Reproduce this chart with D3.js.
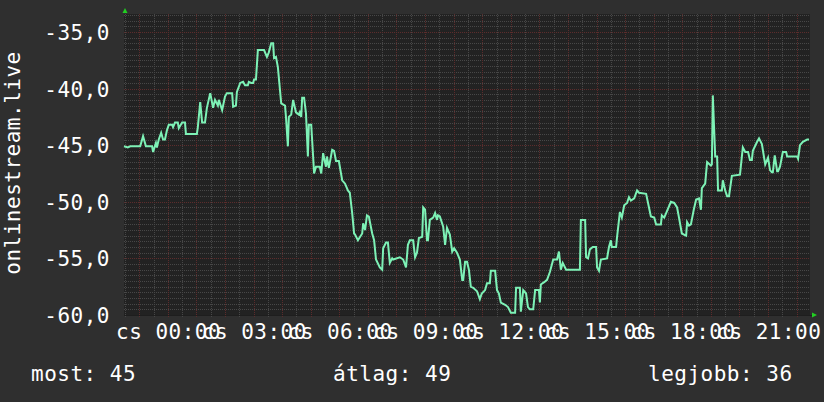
<!DOCTYPE html>
<html><head><meta charset="utf-8">
<script src="https://cdn.jsdelivr.net/npm/d3@7"></script>
<style>
html,body{margin:0;padding:0;background:#2f2f2f;}
svg{display:block;}
text{font-family:"DejaVu Sans Mono",monospace;fill:#ffffff;}
</style></head><body>
<svg id="c" width="824" height="402"></svg>
<script>
// ---- data ----
const times = [
"22:28","22:36","22:41","23:02","23:08","23:14","23:27","23:29","23:35","23:37","23:41","23:46","23:50","23:54","23:58",
"00:02","00:09","00:11","00:15","00:21","00:23","00:30","00:36","00:38",
"01:01","01:03","01:08","01:12","01:18","01:22","01:29","01:35","01:39","01:45","01:47","01:54",
"02:00","02:04","02:15","02:17","02:23","02:25","02:32","02:38","02:42","02:48","02:50","02:55","02:59",
"03:01","03:05","03:09","03:22","03:28","03:32","03:37","03:41","03:43","03:47","03:51","03:58",
"04:06","04:08","04:12","04:14","04:19","04:23","04:29","04:35","04:37","04:40","04:42","04:46","04:50","04:54","04:56",
"05:01","05:05","05:07","05:11","05:19","05:22","05:26","05:32","05:34","05:38","05:45","05:49","05:53","05:59",
"06:06","06:12","06:18","06:22","06:27","06:31","06:33","06:39","06:48","06:50","06:54","06:58",
"07:02","07:09","07:13","07:17","07:25","07:30","07:32","07:38","07:42","07:46","07:51","07:53",
"08:07","08:14","08:20","08:24","08:28","08:35","08:39","08:43","08:47","08:54","08:56",
"09:00","09:04","09:06","09:10","09:17","09:21","09:25","09:27","09:31","09:38","09:42","09:46","09:52","09:57",
"10:01","10:07","10:13","10:18","10:20","10:24","10:28","10:32","10:36","10:41","10:49","10:55","10:59",
"11:06","11:10","11:16","11:18","11:27","11:31","11:35","11:39","11:48","11:54",
"12:00","12:09","12:11","12:19","12:21","12:26","12:32","12:36","12:40","12:47","12:51","12:59",
"13:01","13:03","13:10","13:16","13:22","13:29","13:37","13:41","13:45","13:49","13:56",
"14:25","14:27","14:36","14:38","14:42","14:46","14:52","14:59",
"15:01","15:05","15:09","15:22","15:26","15:30","15:32","15:41","15:43","15:49","15:53","15:58",
"16:04","16:08","16:12","16:19","16:25","16:29","16:44","16:50","16:54",
"17:01","17:05","17:15","17:17","17:22","17:26","17:36","17:43","17:49","17:53","17:59",
"18:08","18:10","18:14","18:18","18:24","18:29","18:35","18:39","18:41","18:48","18:52",
"19:00","19:02","19:04","19:09","19:13","19:15","19:23","19:25","19:30","19:34","19:38","19:44",
"20:01","20:07","20:12","20:18","20:22","20:26","20:28","20:37","20:41","20:47","20:54","20:58",
"21:00","21:04","21:08","21:10","21:14","21:19","21:21","21:25","21:31","21:38","21:40",
"22:01","22:03","22:07","22:13","22:22","22:26"
];
const values = [
-45.1,-45.2,-45.1,-45.1,-44.2,-45.1,-45.1,-45.6,-44.8,-45.2,-44.5,-43.9,-44.5,-44.5,-43.7,
-43.2,-43.2,-43.4,-43.0,-43.0,-43.5,-43.0,-43.0,-44.0,
-44.0,-43.4,-41.2,-43.0,-43.0,-41.7,-40.4,-41.7,-41.0,-41.5,-41.0,-41.9,
-40.7,-40.4,-40.4,-41.6,-41.5,-40.3,-39.5,-39.4,-39.7,-39.7,-39.4,-39.5,-39.5,
-39.2,-39.2,-36.6,-36.6,-37.2,-36.8,-36.0,-36.0,-37.3,-37.2,-38.1,-41.3,
-41.5,-42.5,-45.1,-42.5,-42.3,-41.0,-42.1,-42.3,-42.1,-42.5,-40.8,-40.8,-42.2,-46.0,-43.2,
-43.2,-46.0,-47.5,-46.9,-46.9,-47.5,-45.7,-46.9,-46.0,-47.0,-45.4,-45.5,-46.4,-46.4,
-48.1,-48.4,-49.0,-49.2,-51.0,-52.8,-52.9,-53.4,-52.8,-51.9,-52.5,-51.2,
-51.3,-52.8,-53.4,-55.1,-55.8,-56.0,-54.1,-53.6,-53.6,-55.4,-55.0,-55.1,
-54.9,-55.1,-55.8,-53.8,-53.4,-53.4,-54.9,-54.5,-53.2,-53.1,-50.5,
-50.7,-53.4,-53.4,-51.6,-51.4,-51.0,-51.6,-51.2,-51.3,-52.2,-53.8,-52.3,-52.9,-54.4,
-54.1,-54.5,-55.1,-56.9,-56.9,-55.3,-55.3,-56.0,-57.5,-57.6,-57.9,-58.6,-58.1,
-57.8,-57.2,-57.2,-56.1,-56.1,-57.8,-58.1,-58.9,-59.1,-59.3,
-59.8,-59.8,-57.6,-57.6,-59.7,-57.8,-58.1,-59.3,-59.5,-59.5,-57.8,-57.8,
-58.9,-57.3,-57.1,-56.9,-56.2,-55.1,-55.1,-54.4,-56.0,-55.4,-56.0,
-56.0,-51.6,-51.6,-54.9,-55.0,-54.2,-54.0,-54.0,
-55.8,-56.1,-55.1,-55.0,-54.0,-53.4,-54.0,-54.0,-53.1,-50.9,-51.4,-50.3,
-50.1,-49.6,-49.9,-49.7,-49.0,-49.2,-49.3,-50.5,-51.3,
-51.4,-52.0,-52.0,-51.2,-51.4,-51.0,-50.0,-50.1,-50.5,-51.4,-52.8,
-53.0,-51.8,-52.1,-52.0,-50.7,-49.8,-49.7,-50.7,-48.8,-48.4,-46.5,
-46.8,-46.7,-40.6,-46.0,-46.0,-49.0,-49.0,-48.1,-49.0,-49.5,-49.5,-47.7,
-47.6,-45.2,-45.6,-45.6,-46.3,-46.3,-45.5,-44.7,-44.4,-44.9,-46.7,-46.3,
-46.1,-47.2,-47.4,-47.4,-45.9,-47.3,-47.3,-46.9,-45.6,-45.6,-46.0,
-46.0,-46.2,-45.0,-44.7,-44.5,-44.5
];
const yTickValues = [-60,-55,-50,-45,-40,-35];
const xLabelHours = [0,3,6,9,12,15,18,21];
const yTitle = "onlinestream.live";
const legendItems = ["most: 45","átlag: 49","legjobb: 36"];
const shortDays = ["v","h","k","sze","cs","p","szo"];

// ---- layout ----
const P = {l:124, r:810, t:14, b:315};
const FS = "21px", LS = "0.5px";
const svg = d3.select("#c");
const startT = new Date(2024,0,3,22,28), endT = new Date(2024,0,4,22,28);

let day = 3, prev = -1;
const series = times.map((s,i)=>{
  const [h,m] = s.split(":").map(Number);
  const mm = h*60+m;
  if (mm < prev) day = 4;
  prev = mm;
  return {t:new Date(2024,0,day,h,m), v:values[i]};
});

const x = d3.scaleTime().domain([startT,endT]).range([P.l,P.r]);
const y = d3.scaleLinear().domain([-60,-33.41]).range([P.b,P.t]);

const locale = d3.timeFormatLocale({
  dateTime:"%Y. %B %-e. %X", date:"%Y. %m. %d.", time:"%H:%M:%S",
  periods:["de.","du."],
  days:["vasárnap","hétfő","kedd","szerda","csütörtök","péntek","szombat"],
  shortDays:shortDays,
  months:["január","február","március","április","május","június","július","augusztus","szeptember","október","november","december"],
  shortMonths:["jan","feb","márc","ápr","máj","jún","júl","aug","szept","okt","nov","dec"]
});
const numFmt = d3.formatLocale({decimal:",",thousands:" ",grouping:[3],currency:["","Ft"],minus:"-"}).format(".1f");

svg.append("rect").attr("x",0).attr("y",0).attr("width",824).attr("height",402).attr("fill","#2f2f2f");
svg.append("rect").attr("x",P.l).attr("y",P.t).attr("width",P.r-P.l).attr("height",P.b-P.t).attr("fill","#222222");

const grid = svg.append("g");
const minorC = "#474747", majorC = "#5c2c2c";
const hLines = d3.range(0, 54).map(i => -60 + i*0.5).filter(v => v <= -33.41 && v > -60);
const vTimes = d3.timeMinute.every(30).range(startT, endT);
// minor first
hLines.filter(v => Math.abs(v % 5) > 1e-9).forEach(v=>{
  const yy = Math.round(y(v)) + 0.5;
  grid.append("line").attr("x1",P.l).attr("x2",P.r).attr("y1",yy).attr("y2",yy)
    .attr("stroke",minorC).attr("stroke-dasharray","1,1");
});
vTimes.filter(t => t.getMinutes()!==0).forEach(t=>{
  const xx = Math.round(x(t)) + 0.5;
  grid.append("line").attr("x1",xx).attr("x2",xx).attr("y1",P.t).attr("y2",P.b+2)
    .attr("stroke",minorC).attr("stroke-dasharray","1,1");
});
hLines.filter(v => Math.abs(v % 5) < 1e-9).forEach(v=>{
  const yy = Math.round(y(v)) + 0.5;
  grid.append("line").attr("x1",P.l).attr("x2",P.r).attr("y1",yy).attr("y2",yy)
    .attr("stroke",majorC).attr("stroke-dasharray","1,1");
});
vTimes.filter(t => t.getMinutes()===0).forEach(t=>{
  const xx = Math.round(x(t)) + 0.5;
  grid.append("line").attr("x1",xx).attr("x2",xx).attr("y1",P.t).attr("y2",P.b+3)
    .attr("stroke",majorC).attr("stroke-dasharray","1,1");
});

svg.append("line").attr("x1",P.l).attr("x2",P.r+2).attr("y1",P.b+0.5).attr("y2",P.b+0.5).attr("stroke","#1e1e1e");

const arrowC = "#22d022";
svg.append("path").attr("d",`M${P.l-1.5},${P.t-1}L${P.l+3.5},${P.t-1}L${P.l+1},${P.t-6}Z`).attr("fill",arrowC);
svg.append("path").attr("d",`M${P.r+2},${P.b-2.5}L${P.r+2},${P.b+2.5}L${P.r+7},${P.b}Z`).attr("fill",arrowC);

const yAxis = d3.axisLeft(y).tickValues(yTickValues).tickSize(0).tickPadding(0).tickFormat(numFmt);
const gy = svg.append("g").attr("transform",`translate(${P.l-14},0)`).call(yAxis);
gy.select(".domain").remove();
gy.selectAll("text").attr("fill","#fff").style("font-size",FS).style("letter-spacing",LS)
  .style("font-family","DejaVu Sans Mono").attr("dy","0.36em").attr("x",0);

const labelTimes = xLabelHours.map(h=>new Date(2024,0,4,h,0));
const xAxis = d3.axisBottom(x).tickValues(labelTimes).tickSize(0).tickPadding(0).tickFormat(locale.format("%a %H:%M"));
const gx = svg.append("g").attr("transform",`translate(0,${P.b})`).call(xAxis);
gx.select(".domain").remove();
gx.selectAll("text").attr("fill","#fff").style("font-size",FS).style("letter-spacing",LS)
  .style("font-family","DejaVu Sans Mono").attr("dy",null).attr("y",24).attr("dx","0.25");

const line = d3.line().x(d=>x(d.t)).y(d=>y(d.v));
svg.append("path").datum(series).attr("d",line).attr("fill","none")
  .attr("stroke","#7df2b6").attr("stroke-width",2).attr("stroke-linejoin","miter");

svg.append("text").attr("transform","translate(20,163) rotate(-90)").attr("text-anchor","middle")
  .style("font-size",FS).style("letter-spacing",LS).text(yTitle);

const legendX = [31,333,648];
svg.selectAll(".lg").data(legendItems).join("text").attr("class","lg")
  .attr("x",(d,i)=>legendX[i]).attr("y",381).style("font-size",FS).style("letter-spacing",LS).text(d=>d);
</script>
</body></html>
